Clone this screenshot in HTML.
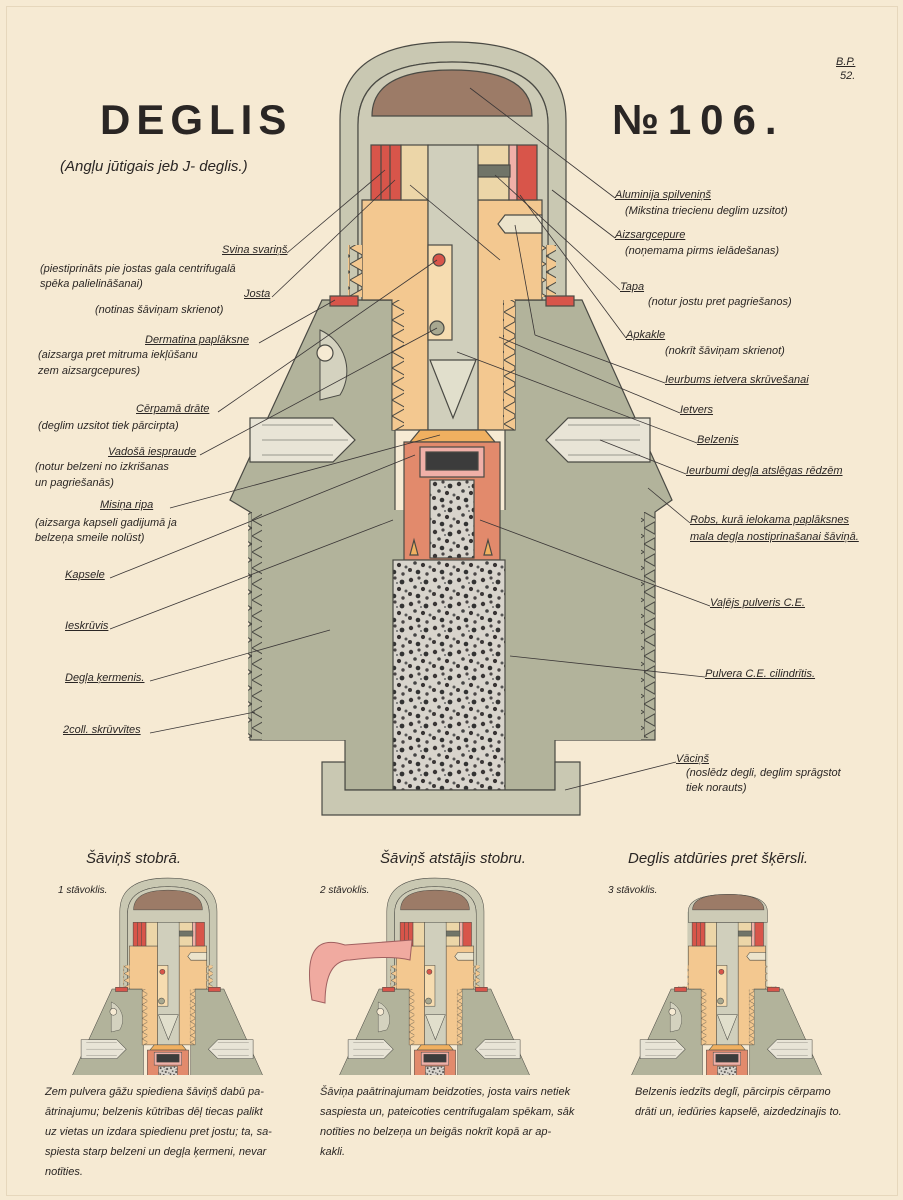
<!DOCTYPE html>
<html><head><meta charset="utf-8"><style>
html,body{margin:0;padding:0;}
body{width:903px;height:1200px;background:#f6ead3;position:relative;overflow:hidden;font-family:"Liberation Sans",sans-serif;color:#2a2624;}
.t{position:absolute;font-style:italic;font-size:11px;white-space:nowrap;line-height:1;}
.u{text-decoration:underline;}
.h{position:absolute;font-style:italic;font-size:15px;white-space:nowrap;}
.c{position:absolute;font-style:italic;font-size:11px;line-height:20px;white-space:nowrap;}
</style></head><body>
<div style="position:absolute;left:6px;top:6px;width:890px;height:1188px;border:1px solid #e6d7bc;"></div>
<svg width="903" height="1200" style="position:absolute;left:0;top:0">
<defs>
<pattern id="pw" width="24" height="24" patternUnits="userSpaceOnUse">
<rect width="24" height="24" fill="#d8d4cc"/>
<circle cx="3" cy="4" r="2.2" fill="#3a3636"/><circle cx="11" cy="2" r="1.6" fill="#4a4646"/>
<circle cx="18" cy="6" r="2.4" fill="#333"/><circle cx="7" cy="11" r="1.8" fill="#444"/>
<circle cx="15" cy="13" r="2.1" fill="#383434"/><circle cx="22" cy="15" r="1.5" fill="#555"/>
<circle cx="2" cy="18" r="2" fill="#3c3838"/><circle cx="10" cy="20" r="2.3" fill="#333"/>
<circle cx="19" cy="22" r="1.7" fill="#4a4646"/><circle cx="13" cy="7" r="1" fill="#666"/>
</pattern>
<pattern id="thL" width="14" height="16" patternUnits="userSpaceOnUse">
<polygon points="14,0 0,8 14,16" fill="#b2b39b" stroke="#4a4a44" stroke-width="1"/></pattern>
<pattern id="thR" width="14" height="16" patternUnits="userSpaceOnUse">
<polygon points="0,0 14,8 0,16" fill="#b2b39b" stroke="#4a4a44" stroke-width="1"/></pattern>
<pattern id="thO" width="14" height="16" patternUnits="userSpaceOnUse">
<polygon points="0,0 14,8 0,16" fill="#f3c890" stroke="#4a4a44" stroke-width="1"/></pattern>
<pattern id="thO2" width="14" height="16" patternUnits="userSpaceOnUse">
<polygon points="14,0 0,8 14,16" fill="#f3c890" stroke="#4a4a44" stroke-width="1"/></pattern>
<clipPath id="sc"><rect x="150" y="30" width="600" height="470"/></clipPath>
<clipPath id="sc3"><polygon points="360,120 546,120 546,294 750,294 750,500 150,500 150,294 360,294"/></clipPath>
<g id="fuse" stroke="#4a4a44" stroke-width="1.2">
<polygon points="322,300 395,300 395,560 505,560 505,300 582,300 672,500 655,512 655,740 555,740 555,790 345,790 345,740 250,740 250,512 230,500" fill="#b2b39b"/>
<rect x="248" y="512" width="14" height="226" fill="url(#thL)" stroke="none"/>
<rect x="641" y="512" width="14" height="226" fill="url(#thR)" stroke="none"/>
<rect x="262" y="510" width="379" height="230" fill="#b2b39b" stroke="none"/>
<path d="M320,330 A45,45 0 0 1 340,395 L320,400 Z" fill="#d4d2bf" stroke-width="1"/>
<circle cx="325" cy="353" r="8" fill="#f6ead3"/>
<path d="M340,300 L340,120 Q340,42 452,42 Q566,42 566,120 L566,300 L548,300 L548,125 Q548,62 452,62 Q358,62 358,125 L358,300 Z" fill="#c9c8b2"/>
<path d="M358,300 L358,125 Q358,62 452,62 Q548,62 548,125 L548,300 Z" fill="#cdcbb6"/>
<path d="M372,116 Q372,70 452,70 Q532,70 532,116 Z" fill="#9c7b67"/>
<path d="M362,200 L428,200 L428,430 L392,430 L392,300 L362,300 Z" fill="#f3c890"/>
<path d="M478,200 L542,200 L542,300 L515,300 L515,430 L478,430 Z" fill="#f3c890"/>
<rect x="392" y="300" width="12" height="130" fill="url(#thO)" stroke="none"/>
<rect x="503" y="300" width="12" height="130" fill="url(#thO2)" stroke="none"/>
<rect x="348" y="245" width="14" height="52" fill="url(#thO2)" stroke="none"/>
<rect x="542" y="245" width="14" height="52" fill="url(#thO)" stroke="none"/>
<rect x="330" y="296" width="28" height="10" fill="#d8554a"/>
<rect x="546" y="296" width="28" height="10" fill="#d8554a"/>
<rect x="371" y="145" width="30" height="55" fill="#d8554a"/>
<line x1="381" y1="145" x2="381" y2="200"/><line x1="390" y1="145" x2="390" y2="200"/>
<rect x="401" y="145" width="27" height="55" fill="#ecd6a8"/>
<rect x="477" y="145" width="32" height="55" fill="#ecd6a8"/>
<rect x="509" y="145" width="8" height="55" fill="#f0b0a8"/>
<rect x="517" y="145" width="20" height="55" fill="#d8554a"/>
<rect x="462" y="165" width="48" height="12" fill="#707468"/>
<path d="M428,145 L478,145 L478,430 L428,430 Z" fill="#d0cfbc"/>
<polygon points="430,360 476,360 453,418" fill="#e1dfcc"/>
<rect x="428" y="245" width="24" height="95" fill="#f6dcb0"/>
<circle cx="439" cy="260" r="6" fill="#d8554a"/>
<circle cx="437" cy="328" r="7" fill="#a8a890"/>
<polygon points="505,215 542,215 542,233 505,233 498,224" fill="#ece4cc"/>
<g><polygon points="250,418 333,418 355,440 333,462 250,462" fill="#e8e4d6"/>
<line x1="262" y1="425" x2="333" y2="425" stroke-width=".6"/><line x1="262" y1="440" x2="348" y2="440" stroke-width=".6"/><line x1="262" y1="455" x2="333" y2="455" stroke-width=".6"/>
<polygon points="650,418 568,418 546,440 568,462 650,462" fill="#e8e4d6"/>
<line x1="568" y1="425" x2="640" y2="425" stroke-width=".6"/><line x1="555" y1="440" x2="640" y2="440" stroke-width=".6"/><line x1="568" y1="455" x2="640" y2="455" stroke-width=".6"/></g>
<polygon points="420,430 485,430 495,442 410,442" fill="#f0b060"/>
<rect x="404" y="442" width="96" height="118" fill="#e28a6c"/>
<rect x="420" y="447" width="64" height="30" fill="#f0b0a8"/>
<rect x="426" y="452" width="52" height="18" fill="#3c3c3c"/>
<rect x="430" y="480" width="44" height="78" fill="url(#pw)"/>
<polygon points="410,555 414,540 418,555" fill="#f0b060"/><polygon points="484,555 488,540 492,555" fill="#f0b060"/>
<rect x="393" y="560" width="112" height="230" fill="url(#pw)"/>
<path d="M322,762 L345,762 L345,790 L555,790 L555,762 L580,762 L580,815 L322,815 Z" fill="#c9c8b2"/>
</g>
</defs>
<use href="#fuse"/>
<g transform="translate(-26.4,860) scale(0.43)"><g clip-path="url(#sc)"><use href="#fuse"/></g></g>
<g transform="translate(240.6,860) scale(0.43)"><g clip-path="url(#sc)"><use href="#fuse"/></g></g>
<g transform="translate(532.6,860) scale(0.43)"><g clip-path="url(#sc3)"><use href="#fuse"/></g>
<path d="M362,120 L362,145 L546,145 L546,120 Q546,80 455,80 Q362,80 362,120 Z" fill="#cdcbb6" stroke="#4a4a44" stroke-width="1.2"/>
<path d="M372,116 Q372,80 455,80 Q538,80 538,116 Z" fill="#9c7b67" stroke="#4a4a44" stroke-width="1.2"/>
</g>
<path d="M345,945 Q300,930 312,1000 L325,1003 Q325,960 350,960 Q390,955 410,960 L412,940 Z" fill="#f0aaa0" stroke="#a06060" stroke-width="1"/>
<g stroke="#3a3636" stroke-width="0.8" fill="none">
<line x1="470" y1="88" x2="615" y2="198"/><line x1="552" y1="190" x2="615" y2="238"/>
<line x1="495" y1="175" x2="620" y2="290"/><line x1="520" y1="195" x2="626" y2="338"/>
<line x1="515" y1="225" x2="535" y2="335"/><line x1="535" y1="335" x2="665" y2="383"/>
<line x1="499" y1="337" x2="680" y2="413"/><line x1="457" y1="352" x2="697" y2="443"/>
<line x1="600" y1="440" x2="686" y2="474"/><line x1="648" y1="488" x2="690" y2="523"/>
<line x1="480" y1="520" x2="710" y2="606"/><line x1="510" y1="656" x2="705" y2="677"/>
<line x1="565" y1="790" x2="676" y2="762"/>
<line x1="385" y1="170" x2="287" y2="253"/><line x1="395" y1="180" x2="272" y2="297"/>
<line x1="335" y1="300" x2="259" y2="343"/><line x1="437" y1="260" x2="218" y2="412"/>
<line x1="437" y1="328" x2="200" y2="455"/><line x1="440" y1="435" x2="170" y2="508"/>
<line x1="415" y1="455" x2="110" y2="578"/><line x1="393" y1="520" x2="110" y2="629"/>
<line x1="330" y1="630" x2="150" y2="681"/><line x1="255" y1="712" x2="150" y2="733"/>
<line x1="410" y1="185" x2="500" y2="260"/>
</g>
</svg>
<div style="position:absolute;left:100px;top:96px;font-size:42px;font-weight:bold;letter-spacing:6px;">DEGLIS</div>
<div style="position:absolute;left:612px;top:96px;font-size:42px;font-weight:bold;letter-spacing:9px;">№106.</div>
<div class="h" style="left:60px;top:158px;">(Angļu jūtigais jeb J- deglis.)</div>
<div class="t" style="left:836px;top:57px;text-decoration:underline">B.P.</div>
<div class="t" style="left:840px;top:71px;">52.</div>

<div class="t u" style="left:615px;top:190px;">Aluminija spilveniņš</div>
<div class="t" style="left:625px;top:206px;">(Mikstina triecienu deglim uzsitot)</div>
<div class="t u" style="left:615px;top:230px;">Aizsargcepure</div>
<div class="t" style="left:625px;top:246px;">(noņemama pirms ielādešanas)</div>
<div class="t u" style="left:620px;top:282px;">Tapa</div>
<div class="t" style="left:648px;top:297px;">(notur jostu pret pagriešanos)</div>
<div class="t u" style="left:626px;top:330px;">Apkakle</div>
<div class="t" style="left:665px;top:346px;">(nokrīt šāviņam skrienot)</div>
<div class="t u" style="left:665px;top:375px;">Ieurbums ietvera skrūvešanai</div>
<div class="t u" style="left:680px;top:405px;">Ietvers</div>
<div class="t u" style="left:697px;top:435px;">Belzenis</div>
<div class="t u" style="left:686px;top:466px;">Ieurbumi degļa atslēgas rēdzēm</div>
<div class="t u" style="left:690px;top:515px;">Robs, kurā ielokama paplāksnes</div>
<div class="t u" style="left:690px;top:532px;">mala degļa nostiprinašanai šāviņā.</div>
<div class="t u" style="left:710px;top:598px;">Vaļējs pulveris C.E.</div>
<div class="t u" style="left:705px;top:669px;">Pulvera C.E. cilindrītis.</div>
<div class="t u" style="left:676px;top:754px;">Vāciņš</div>
<div class="t" style="left:686px;top:768px;">(noslēdz degli, deglim sprāgstot</div>
<div class="t" style="left:686px;top:783px;">tiek norauts)</div>

<div class="t u" style="left:222px;top:245px;">Svina svariņš</div>
<div class="t" style="left:40px;top:264px;">(piestiprināts pie jostas gala centrifugalā</div>
<div class="t" style="left:40px;top:279px;">spēka palielināšanai)</div>
<div class="t u" style="left:244px;top:289px;">Josta</div>
<div class="t" style="left:95px;top:305px;">(notinas šāviņam skrienot)</div>
<div class="t u" style="left:145px;top:335px;">Dermatina paplāksne</div>
<div class="t" style="left:38px;top:350px;">(aizsarga pret mitruma iekļūšanu</div>
<div class="t" style="left:38px;top:366px;">zem aizsargcepures)</div>
<div class="t u" style="left:136px;top:404px;">Cērpamā drāte</div>
<div class="t" style="left:38px;top:421px;">(deglim uzsitot tiek pārcirpta)</div>
<div class="t u" style="left:108px;top:447px;">Vadošā iespraude</div>
<div class="t" style="left:35px;top:462px;">(notur belzeni no izkrišanas</div>
<div class="t" style="left:35px;top:478px;">un pagriešanās)</div>
<div class="t u" style="left:100px;top:500px;">Misiņa ripa</div>
<div class="t" style="left:35px;top:518px;">(aizsarga kapseli gadijumā ja</div>
<div class="t" style="left:35px;top:533px;">belzeņa smeile nolūst)</div>
<div class="t u" style="left:65px;top:570px;">Kapsele</div>
<div class="t u" style="left:65px;top:621px;">Ieskrūvis</div>
<div class="t u" style="left:65px;top:673px;">Degļa ķermenis.</div>
<div class="t u" style="left:63px;top:725px;">2coll. skrūvvītes</div>

<div class="h" style="left:86px;top:850px;">Šāviņš stobrā.</div>
<div class="h" style="left:380px;top:850px;">Šāviņš atstājis stobru.</div>
<div class="h" style="left:628px;top:850px;">Deglis atdūries pret šķērsli.</div>
<div class="t" style="left:58px;top:886px;font-size:10px;">1 stāvoklis.</div>
<div class="t" style="left:320px;top:886px;font-size:10px;">2 stāvoklis.</div>
<div class="t" style="left:608px;top:886px;font-size:10px;">3 stāvoklis.</div>
<div class="c" style="left:45px;top:1082px;">Zem pulvera gāžu spiediena šāviņš dabū pa-<br>ātrinajumu; belzenis kūtrības dēļ tiecas palikt<br>uz vietas un izdara spiedienu pret jostu; ta, sa-<br>spiesta starp belzeni un degļa ķermeni, nevar<br>notīties.</div>
<div class="c" style="left:320px;top:1082px;">Šāviņa paātrinajumam beidzoties, josta vairs netiek<br>saspiesta un, pateicoties centrifugalam spēkam, sāk<br>notīties no belzeņa un beigās nokrīt kopā ar ap-<br>kakli.</div>
<div class="c" style="left:635px;top:1082px;">Belzenis iedzīts deglī, pārcirpis cērpamo<br>drāti un, iedūries kapselē, aizdedzinajis to.</div>
</body></html>
